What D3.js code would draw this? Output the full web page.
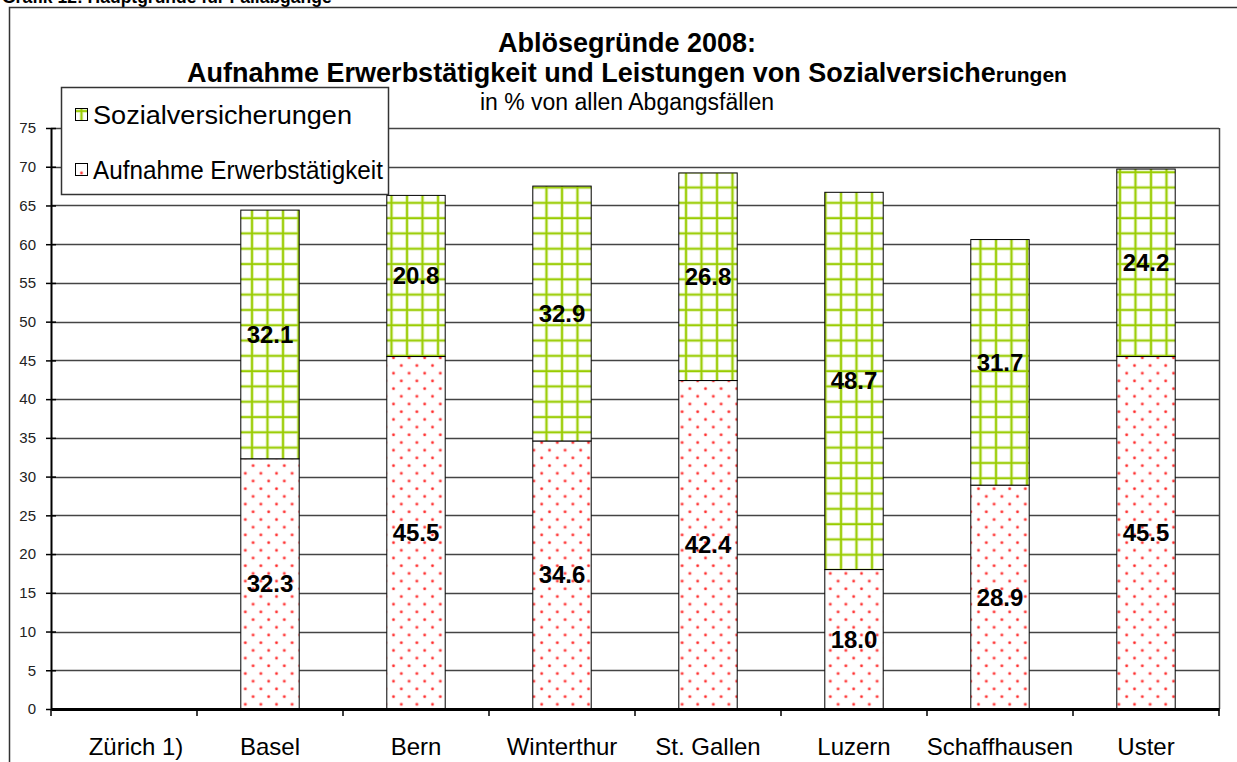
<!DOCTYPE html>
<html>
<head>
  <meta charset="utf-8">
  <title>Ablösegründe 2008</title>
  <script src="https://d3js.org/d3.v7.min.js"></script>
  <style>
    body { margin: 0; background: #fff; }
    text { font-family: Arial, "Liberation Sans", sans-serif; }
  </style>
</head>
<body>
<div id="vis"></div>
<script>
// data
var cities = ["Zürich 1)", "Basel", "Bern", "Winterthur", "St. Gallen", "Luzern", "Schaffhausen", "Uster"];
var erwerb = [null, 32.3, 45.5, 34.6, 42.4, 18.0, 28.9, 45.5];
var sozial = [null, 32.1, 20.8, 32.9, 26.8, 48.7, 31.7, 24.2];
var seriesNames = ["Sozialversicherungen", "Aufnahme Erwerbstätigkeit"];
var yTicks = d3.range(0, 80, 5);

var width = 1237, height = 762;
var svg = d3.select("#vis").append("svg")
  .attr("width", width)
  .attr("height", height);

var defs = svg.append("defs");

// green grid pattern
var pg = defs.append("pattern")
  .attr("id", "grid").attr("patternUnits", "userSpaceOnUse")
  .attr("width", 15.5).attr("height", 15.3);
pg.append("rect").attr("width", 15.5).attr("height", 15.3).attr("fill", "#fff");
pg.append("path").attr("d", "M4,0V15.3M0,4H15.5")
  .attr("stroke", "#d6ec99").attr("stroke-width", 3.2).attr("fill", "none");
pg.append("path").attr("d", "M4,0V15.3M0,4H15.5")
  .attr("stroke", "#99cc00").attr("stroke-width", 1.8).attr("fill", "none");

// red dot pattern
var pd = defs.append("pattern")
  .attr("id", "dots").attr("patternUnits", "userSpaceOnUse")
  .attr("width", 15.6).attr("height", 15.4);
pd.append("rect").attr("width", 15.6).attr("height", 15.4).attr("fill", "#fff");
[[3.5, 3.5], [11.3, 11.2]].forEach(function (p) {
  pd.append("circle").attr("cx", p[0]).attr("cy", p[1]).attr("r", 1.9).attr("fill", "#ffc4c4");
  pd.append("circle").attr("cx", p[0]).attr("cy", p[1]).attr("r", 1.2).attr("fill", "#ff2a2a");
});

// outer frame + cut-off heading
svg.append("text").attr("x", 2).attr("y", 3)
  .attr("font-size", 17.5).attr("font-weight", "bold").attr("fill", "#000")
  .text("Grafik 12: Hauptgründe für Fallabgänge");
svg.append("rect").attr("x", 9.5).attr("y", 7.5).attr("width", 1300).attr("height", 800)
  .attr("fill", "#fff").attr("stroke", "#333").attr("stroke-width", 1.5);

var margin = {left: 51, right: 1219, top: 128, bottom: 709};

var x = d3.scaleBand().domain(cities).range([margin.left, margin.right]).paddingInner(0).paddingOuter(0);
var y = d3.scaleLinear().domain([0, 75]).range([margin.bottom, margin.top]);

// gridlines
svg.append("g").selectAll("line").data(yTicks.filter(function (d) { return d > 0; }))
  .enter().append("line")
  .attr("x1", margin.left).attr("x2", margin.right)
  .attr("y1", function (d) { return Math.round(y(d)) + 0.5; })
  .attr("y2", function (d) { return Math.round(y(d)) + 0.5; })
  .attr("stroke", "#444").attr("stroke-width", 1.4);
svg.append("line").attr("x1", margin.right + 0.5).attr("x2", margin.right + 0.5)
  .attr("y1", y(75)).attr("y2", y(0)).attr("stroke", "#444").attr("stroke-width", 1.5);

// stacked bars
var barW = x.bandwidth() * 0.4;
var rows = cities.map(function (c, i) { return {city: c, e: erwerb[i], s: sozial[i]}; })
  .filter(function (d) { return d.e !== null; });

var bars = svg.append("g").selectAll("g").data(rows).enter().append("g");
bars.append("rect")
  .attr("x", function (d) { return x(d.city) + (x.bandwidth() - barW) / 2; })
  .attr("width", barW)
  .attr("y", function (d) { return y(d.e); })
  .attr("height", function (d) { return y(0) - y(d.e); })
  .attr("fill", "url(#dots)").attr("stroke", "#000").attr("stroke-width", 1);
bars.append("rect")
  .attr("x", function (d) { return x(d.city) + (x.bandwidth() - barW) / 2; })
  .attr("width", barW)
  .attr("y", function (d) { return y(d.e + d.s); })
  .attr("height", function (d) { return y(d.e) - y(d.e + d.s); })
  .attr("fill", "url(#grid)").attr("stroke", "#000").attr("stroke-width", 1);

// value labels
bars.append("text")
  .attr("x", function (d) { return x(d.city) + x.bandwidth() / 2; })
  .attr("y", function (d) { return y(d.e / 2) + 8.5; })
  .attr("text-anchor", "middle").attr("font-size", 24).attr("font-weight", "bold")
  .text(function (d) { return d.e.toFixed(1); });
bars.append("text")
  .attr("x", function (d) { return x(d.city) + x.bandwidth() / 2; })
  .attr("y", function (d) { return y(d.e + d.s / 2) + 8.5; })
  .attr("text-anchor", "middle").attr("font-size", 24).attr("font-weight", "bold")
  .text(function (d) { return d.s.toFixed(1); });

// y axis
var yAxis = svg.append("g").attr("transform", "translate(" + margin.left + ",0)")
  .call(d3.axisLeft(y).tickValues(yTicks).tickSizeInner(5).tickSizeOuter(0).tickPadding(10));
yAxis.select(".domain").attr("stroke", "#000").attr("stroke-width", 2);
yAxis.selectAll(".tick line").attr("x2", 5).attr("x1", -5).attr("stroke", "#000").attr("stroke-width", 1.5);
yAxis.selectAll(".tick text").attr("font-size", 15).attr("fill", "#222")
  .attr("font-family", "Arial, 'Liberation Sans', sans-serif");

// x axis
var xAxis = svg.append("g").attr("transform", "translate(0," + margin.bottom + ")")
  .call(d3.axisBottom(x).tickSize(0).tickPadding(29));
xAxis.select(".domain").attr("stroke", "#000").attr("stroke-width", 3);
xAxis.selectAll(".tick text").attr("font-size", 24).attr("fill", "#000")
  .attr("font-family", "Arial, 'Liberation Sans', sans-serif")
  .attr("dx", function (d, i) { return i === 0 ? 12 : 0; });
xAxis.selectAll("line.sep").data(cities).enter().append("line").attr("class", "sep")
  .attr("x1", function (d) { return x(d); }).attr("x2", function (d) { return x(d); })
  .attr("y1", 0).attr("y2", 7).attr("stroke", "#000").attr("stroke-width", 1.5);
xAxis.append("line").attr("x1", margin.right).attr("x2", margin.right)
  .attr("y1", 0).attr("y2", 7).attr("stroke", "#000").attr("stroke-width", 1.5);

// titles
var cx = 627;
svg.append("text").attr("x", cx).attr("y", 52).attr("text-anchor", "middle")
  .attr("font-size", 27).attr("font-weight", "bold").text("Ablösegründe 2008:");
var t2 = svg.append("text").attr("x", cx).attr("y", 82).attr("text-anchor", "middle")
  .attr("font-weight", "bold");
t2.append("tspan").attr("font-size", 27).text("Aufnahme Erwerbstätigkeit und Leistungen von Sozialversiche");
t2.append("tspan").attr("font-size", 21).text("rungen");
svg.append("text").attr("x", cx).attr("y", 110).attr("text-anchor", "middle")
  .attr("font-size", 23).text("in % von allen Abgangsfällen");

// legend
var lg = svg.append("g");
lg.append("rect").attr("x", 61.5).attr("y", 87.5).attr("width", 327).attr("height", 107)
  .attr("fill", "#fff").attr("stroke", "#333").attr("stroke-width", 1.5);
var fills = ["url(#grid)", "url(#dots)"];
var textLen = [259, 290];
seriesNames.forEach(function (name, i) {
  var yy = 115 + i * 55;
  lg.append("rect").attr("x", 75.5).attr("y", yy - 6.5).attr("width", 12).attr("height", 12)
    .attr("fill", fills[i]).attr("stroke", "#000").attr("stroke-width", 1);
  lg.append("text").attr("x", 93).attr("y", yy + 9).attr("font-size", 25)
    .attr("textLength", textLen[i]).attr("lengthAdjust", "spacingAndGlyphs")
    .text(name);
});
</script>
</body>
</html>
